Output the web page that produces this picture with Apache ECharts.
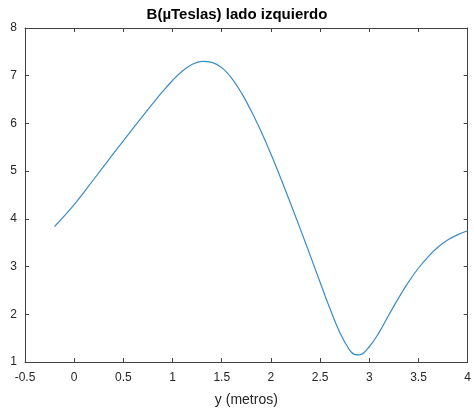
<!DOCTYPE html>
<html>
<head>
<meta charset="utf-8">
<script src="https://cdn.jsdelivr.net/npm/echarts@6/dist/echarts.min.js"></script>
<style>html,body{margin:0;padding:0;background:#fff;}#c{width:474px;height:412px;}</style>
</head>
<body>
<div id="c"></div>
<script>
const titleText = 'B(\u00b5Teslas) lado izquierdo';
const xLabel = 'y (metros)';
const xPos = [-0.2, 0, 0.2, 0.4, 0.6, 0.8, 0.9, 1.0, 1.1, 1.2, 1.3, 1.4, 1.5, 1.6, 1.7, 1.8, 1.9, 2.0, 2.1, 2.2, 2.3, 2.4, 2.5, 2.6, 2.7, 2.8, 2.85, 2.9, 3.0, 3.1, 3.2, 3.3, 3.4, 3.5, 3.6, 3.7, 3.8, 3.9, 4.0];
const bValues = [3.84, 4.30, 4.83, 5.37, 5.90, 6.42, 6.67, 6.90, 7.10, 7.24, 7.30, 7.28, 7.17, 6.95, 6.64, 6.26, 5.83, 5.36, 4.85, 4.32, 3.78, 3.23, 2.67, 2.12, 1.62, 1.25, 1.16, 1.15, 1.32, 1.62, 1.99, 2.35, 2.68, 2.97, 3.21, 3.41, 3.56, 3.67, 3.75];
const xTicks = [-0.5, 0, 0.5, 1, 1.5, 2, 2.5, 3, 3.5, 4];
const yTicks = [1, 2, 3, 4, 5, 6, 7, 8];

const axisColor = '#404040';
const labelColor = '#262626';
const font = 'Liberation Sans, Arial, sans-serif';
const fmt = v => String(v);

const chart = echarts.init(document.getElementById('c'));
const baseX = {
  type: 'value', min: xTicks[0], max: xTicks[xTicks.length - 1], interval: 0.5,
  axisLine: { show: true, onZero: false, lineStyle: { color: axisColor, width: 1 } },
  axisTick: { show: true, inside: true, length: 4, lineStyle: { color: axisColor } },
  splitLine: { show: false }
};
const baseY = {
  type: 'value', min: yTicks[0], max: yTicks[yTicks.length - 1], interval: 1,
  axisLine: { show: true, onZero: false, lineStyle: { color: axisColor, width: 1 } },
  axisTick: { show: true, inside: true, length: 4, lineStyle: { color: axisColor } },
  splitLine: { show: false }
};
chart.setOption({
  animation: false,
  backgroundColor: '#fff',
  title: {
    text: titleText, left: 'center', top: 2,
    textStyle: { fontFamily: font, fontSize: 15, fontWeight: 'bold', color: '#000' }
  },
  grid: { left: 25, right: 6, top: 28, bottom: 48, containLabel: false },
  xAxis: [
    Object.assign({}, baseX, {
      position: 'bottom',
      name: xLabel, nameLocation: 'middle', nameGap: 31,
      nameTextStyle: { fontFamily: font, fontSize: 14, color: labelColor },
      axisLabel: { fontFamily: font, fontSize: 12, color: labelColor, margin: 10, formatter: fmt, showMinLabel: true, showMaxLabel: true }
    }),
    Object.assign({}, baseX, { position: 'top', axisLabel: { show: false } })
  ],
  yAxis: [
    Object.assign({}, baseY, {
      position: 'left',
      axisLabel: { fontFamily: font, fontSize: 12, color: labelColor, margin: 8, formatter: fmt }
    }),
    Object.assign({}, baseY, { position: 'right', axisLabel: { show: false } })
  ],
  series: [{
    type: 'line',
    data: xPos.map((x, i) => [x, bValues[i]]),
    smooth: 0.4,
    showSymbol: false,
    lineStyle: { color: '#3a8cc4', width: 1.2 },
    xAxisIndex: 0, yAxisIndex: 0
  }]
});
</script>
</body>
</html>
